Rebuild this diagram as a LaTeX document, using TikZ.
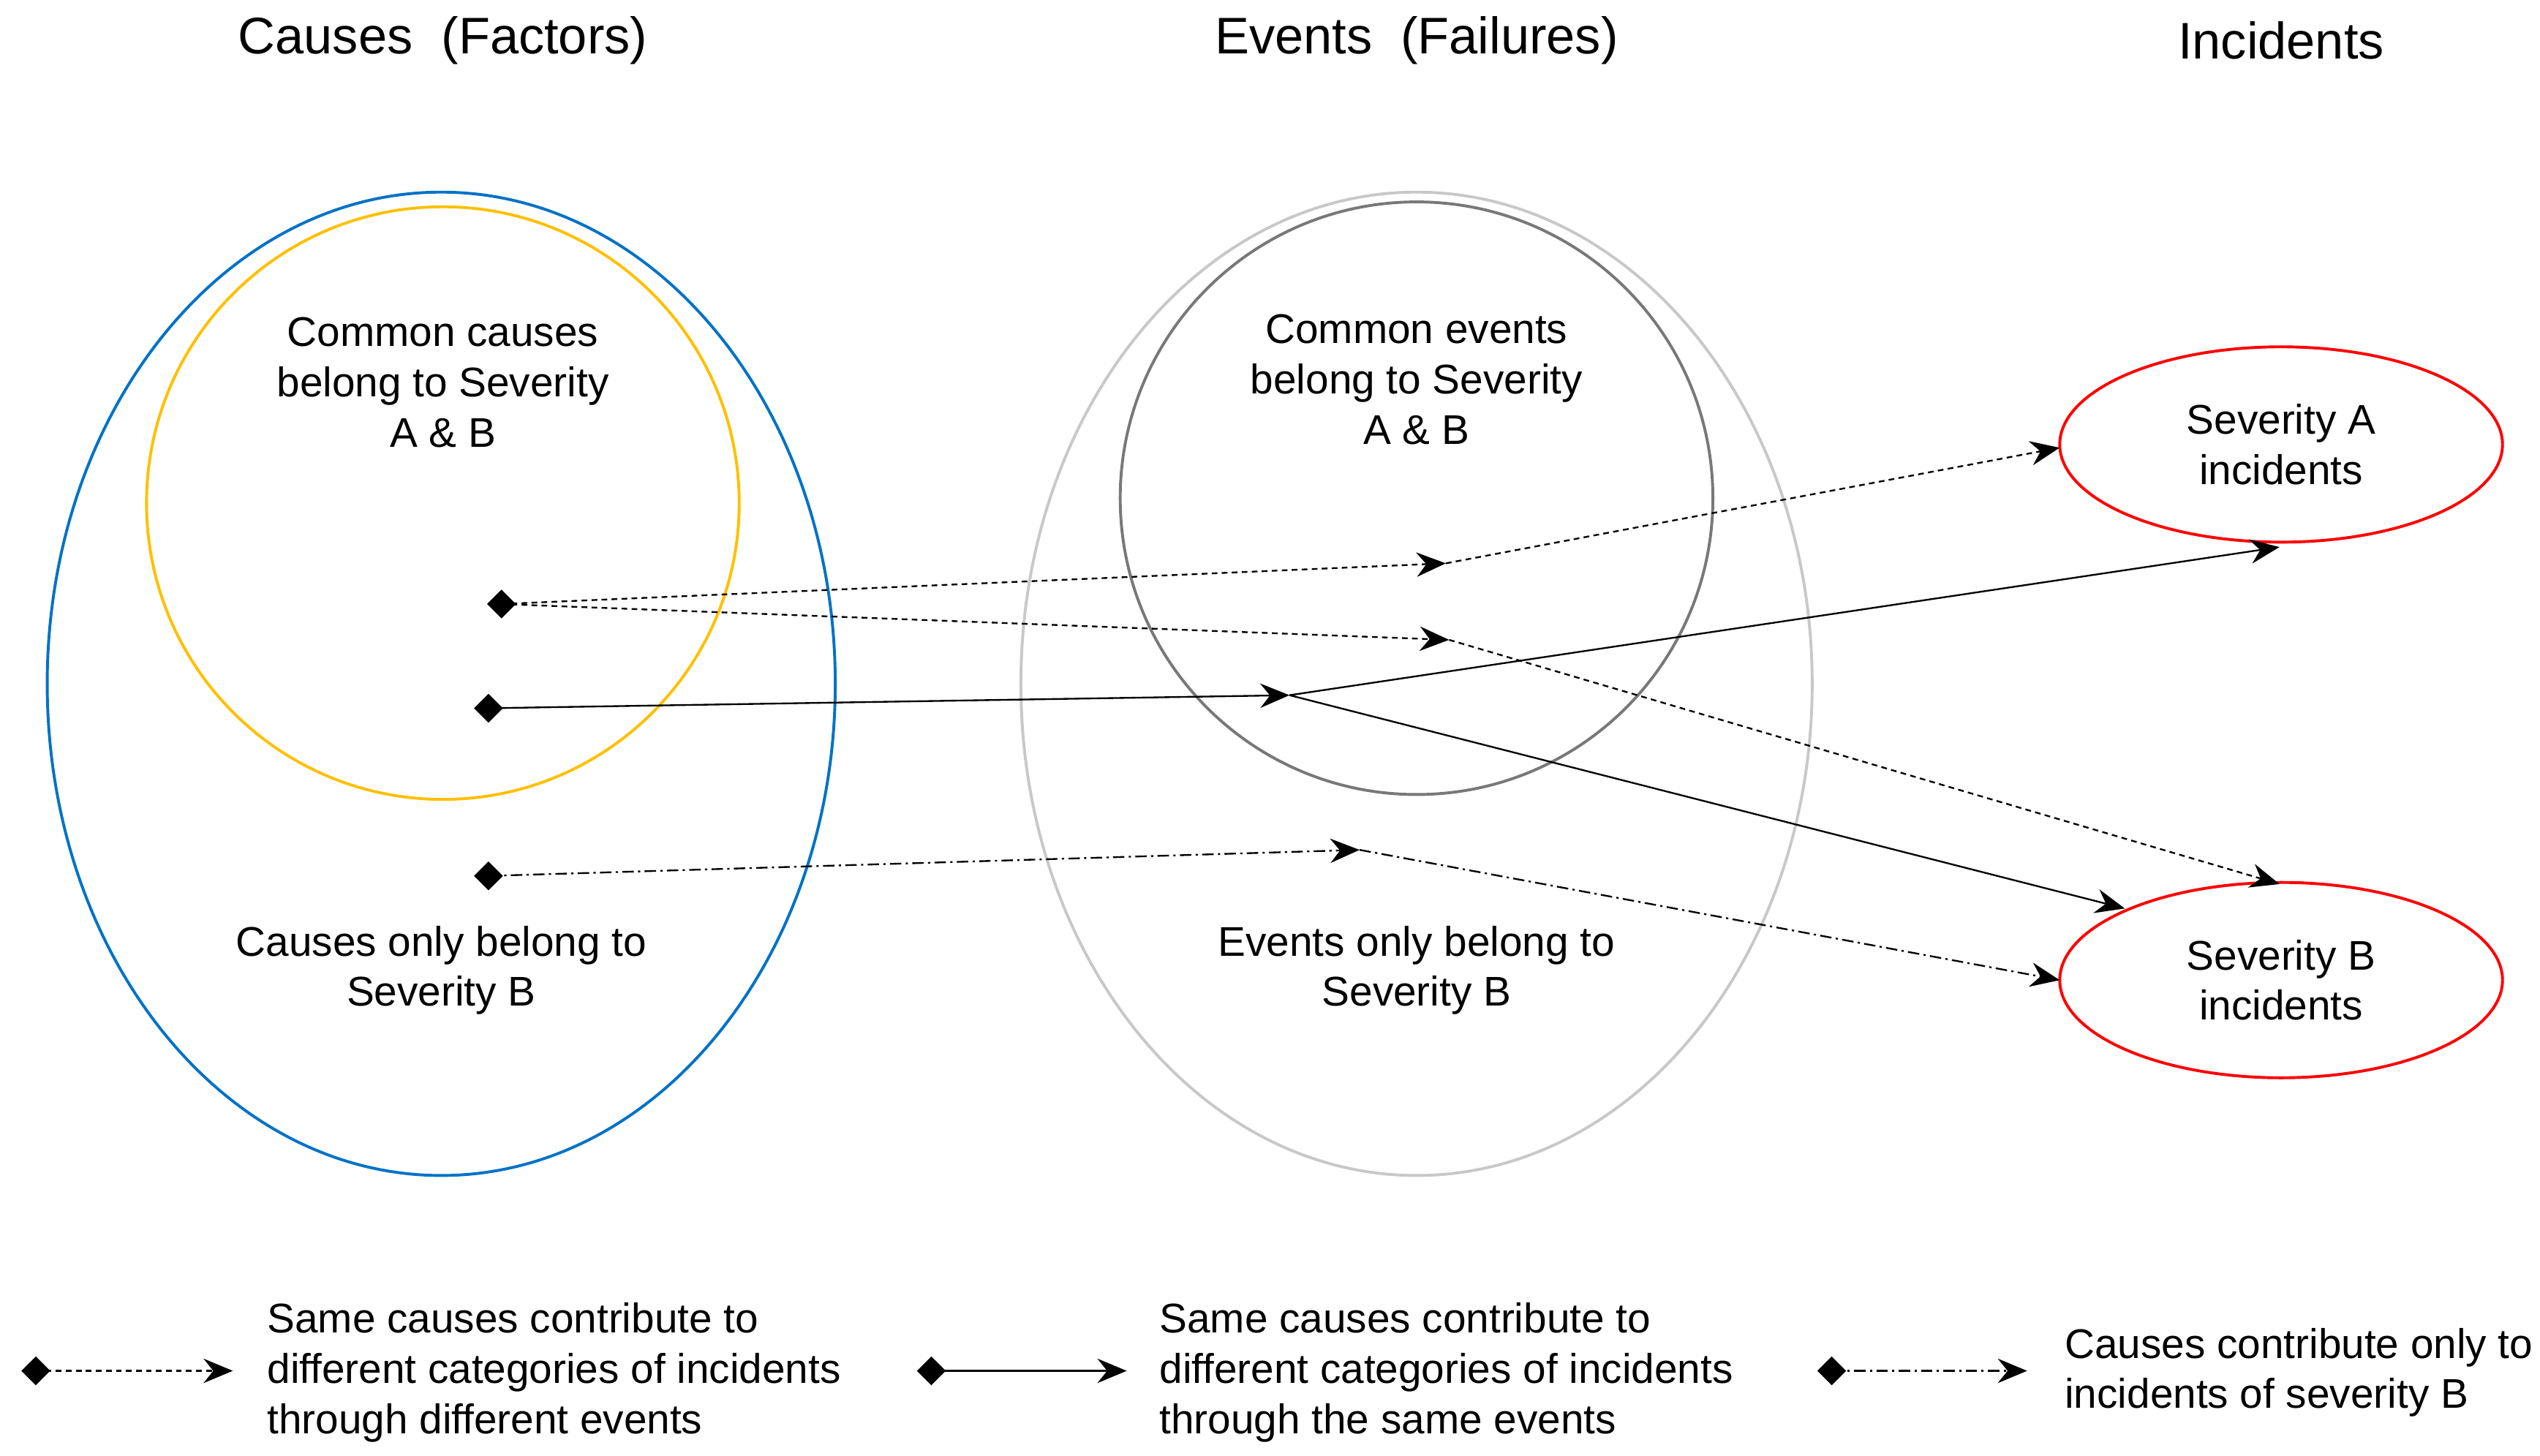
\documentclass[tikz,border=0pt]{standalone}
\usepackage{fontspec}
\setmainfont{Liberation Sans}
\usetikzlibrary{shapes.geometric,arrows.meta}
\begin{document}
\begin{tikzpicture}[x=0.02cm,y=-0.02cm,
  txt/.style={font=\fontsize{14.5}{17.6}\selectfont,align=center},
  ttl/.style={font=\fontsize{18}{20}\selectfont},
  dia/.style={diamond,fill=black,inner sep=0pt,minimum width=0.36cm,minimum height=0.36cm},
  arr/.style={-{Stealth[length=0.36cm,width=0.3cm,inset=0.12cm]},line width=0.6pt},
  dot/.style={arr,dash pattern=on 2pt off 1.5pt},
  dd/.style={arr,dash pattern=on 4pt off 1.5pt on 0.8pt off 1.5pt},
  inc/.style={ellipse,draw=red,line width=1pt,minimum width=5.44cm,minimum height=2.4cm,txt}]
\useasboundingbox (0,0) rectangle (1560,894);
\node[ttl] (t1) at (272,25) {Causes\ \ (Factors)};
\node[ttl] (t2) at (870,25) {Events\ \ (Failures)};
\node[ttl] (t3) at (1401,25) {Incidents};
\draw[draw={rgb,255:red,0;green,114;blue,198},line width=1pt] (271,420) ellipse [x radius=242,y radius=302];
\draw[draw={rgb,255:red,255;green,192;blue,0},line width=1pt] (272,309) circle [radius=182];
\draw[draw={rgb,255:red,200;green,200;blue,200},line width=1pt] (870,420) ellipse [x radius=243,y radius=302];
\draw[draw={rgb,255:red,120;green,120;blue,120},line width=1pt] (870,306) circle [radius=182];
\node[inc] (A) at (1401,273) {Severity A\\incidents};
\node[inc] (B) at (1401,602) {Severity B\\incidents};
\node[txt] (c1) at (272,235) {Common causes\\belong to Severity\\A \& B};
\node[txt] (c2) at (271,596) {Causes only belong to\\Severity B};
\node[txt] (e1) at (870,233) {Common events\\belong to Severity\\A \& B};
\node[txt] (e2) at (870,596) {Events only belong to\\Severity B};
\node[dia] (d1) at (308,371) {};
\node[dia] (d2) at (300,435) {};
\node[dia] (d3) at (300,538) {};
\coordinate (m1) at (888,346);
\coordinate (m2) at (890,393);
\coordinate (m3) at (792,427);
\coordinate (m4) at (835,522);
\coordinate (a1) at (1265,275);
\coordinate (b1) at (1400,543);
\coordinate (a2) at (1400,336);
\coordinate (b2) at (1305,558);
\coordinate (b3) at (1265,602);
\draw[dot] (d1.center) -- (m1);
\draw[dot] (m1) -- (a1);
\draw[dot] (d1.center) -- (m2);
\draw[dot] (m2) -- (b1);
\draw[arr] (d2.center) -- (m3);
\draw[arr] (m3) -- (a2);
\draw[arr] (m3) -- (b2);
\draw[dd] (d3.center) -- (m4);
\draw[dd] (m4) -- (b3);
% legend
\node[dia] (l1) at (22,842) {};
\node[dia] (l2) at (572,842) {};
\node[dia] (l3) at (1125,842) {};
\coordinate (r1) at (143,842);
\coordinate (r2) at (692,842);
\coordinate (r3) at (1245,842);
\draw[dot] (l1.center) -- (r1);
\draw[arr] (l2.center) -- (r2);
\draw[dd] (l3.center) -- (r3);
\node[txt,align=left,anchor=west] (g1) at (158,843) {Same causes contribute to\\different categories of incidents\\through different events};
\node[txt,align=left,anchor=west] (g2) at (706,843) {Same causes contribute to\\different categories of incidents\\through the same events};
\node[txt,align=left,anchor=west] (g3) at (1262,843) {Causes contribute only to\\incidents of severity B};
\end{tikzpicture}
\end{document}
